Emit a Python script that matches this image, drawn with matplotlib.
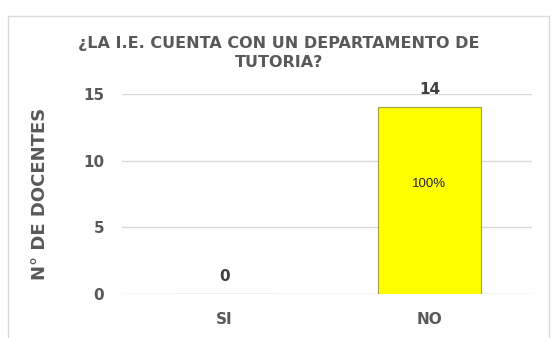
import matplotlib.pyplot as plt
from matplotlib.patches import Rectangle

categorias = ['SI', 'NO']
docentes = [0, 14]
porcentajes = ['', '100%']
yticks = [0, 5, 10, 15]

plt.rcParams['font.family'] = ['DejaVu Sans']
gris = '#595959'

fig = plt.figure(figsize=(5.58, 3.38), dpi=100)
fig.patches.append(Rectangle((8 / 558, -0.1), 541 / 558, 1 - 16 / 338 + 0.1,
                             transform=fig.transFigure, fill=False,
                             edgecolor='#d9d9d9', linewidth=1))

ax = fig.add_axes([122 / 558, 1 - 294 / 338, 410 / 558, 200 / 338])
x = range(len(categorias))
barras = ax.bar(x, docentes, width=0.5, color='#ffff00', edgecolor='#a0a040', linewidth=0.8)

ax.set_ylim(0, 15)
ax.set_xlim(-0.5, 1.5)
ax.set_yticks(yticks)
ax.set_xticks(list(x))
ax.set_xticklabels(categorias)
ax.grid(axis='y', color='#d9d9d9', linewidth=1)
ax.set_axisbelow(True)
for s in ax.spines.values():
    s.set_visible(False)
ax.tick_params(length=0, labelcolor=gris, labelsize=11)
for lbl in ax.get_xticklabels() + ax.get_yticklabels():
    lbl.set_fontweight('bold')
ax.tick_params(axis='y', pad=13)
ax.tick_params(axis='x', pad=13)

for xi, v, p in zip(x, docentes, porcentajes):
    ax.text(xi, v + 0.75, str(v), ha='center', va='bottom', fontsize=11,
            fontweight='bold', color='#404040')
    if p:
        ax.text(xi, v * 0.59, p, ha='center', va='center', fontsize=9.5,
                family='Liberation Sans', color='#262626')

ax.set_ylabel('N° DE DOCENTES', fontsize=13, fontweight='bold', color=gris, labelpad=24)

fig.text(279 / 558, 1 - 53 / 338, '¿LA I.E. CUENTA CON UN DEPARTAMENTO DE\nTUTORIA?',
         ha='center', va='center', fontsize=11.5, fontweight='bold', color=gris,
         linespacing=1.35)

plt.savefig('out.png', dpi=100)
